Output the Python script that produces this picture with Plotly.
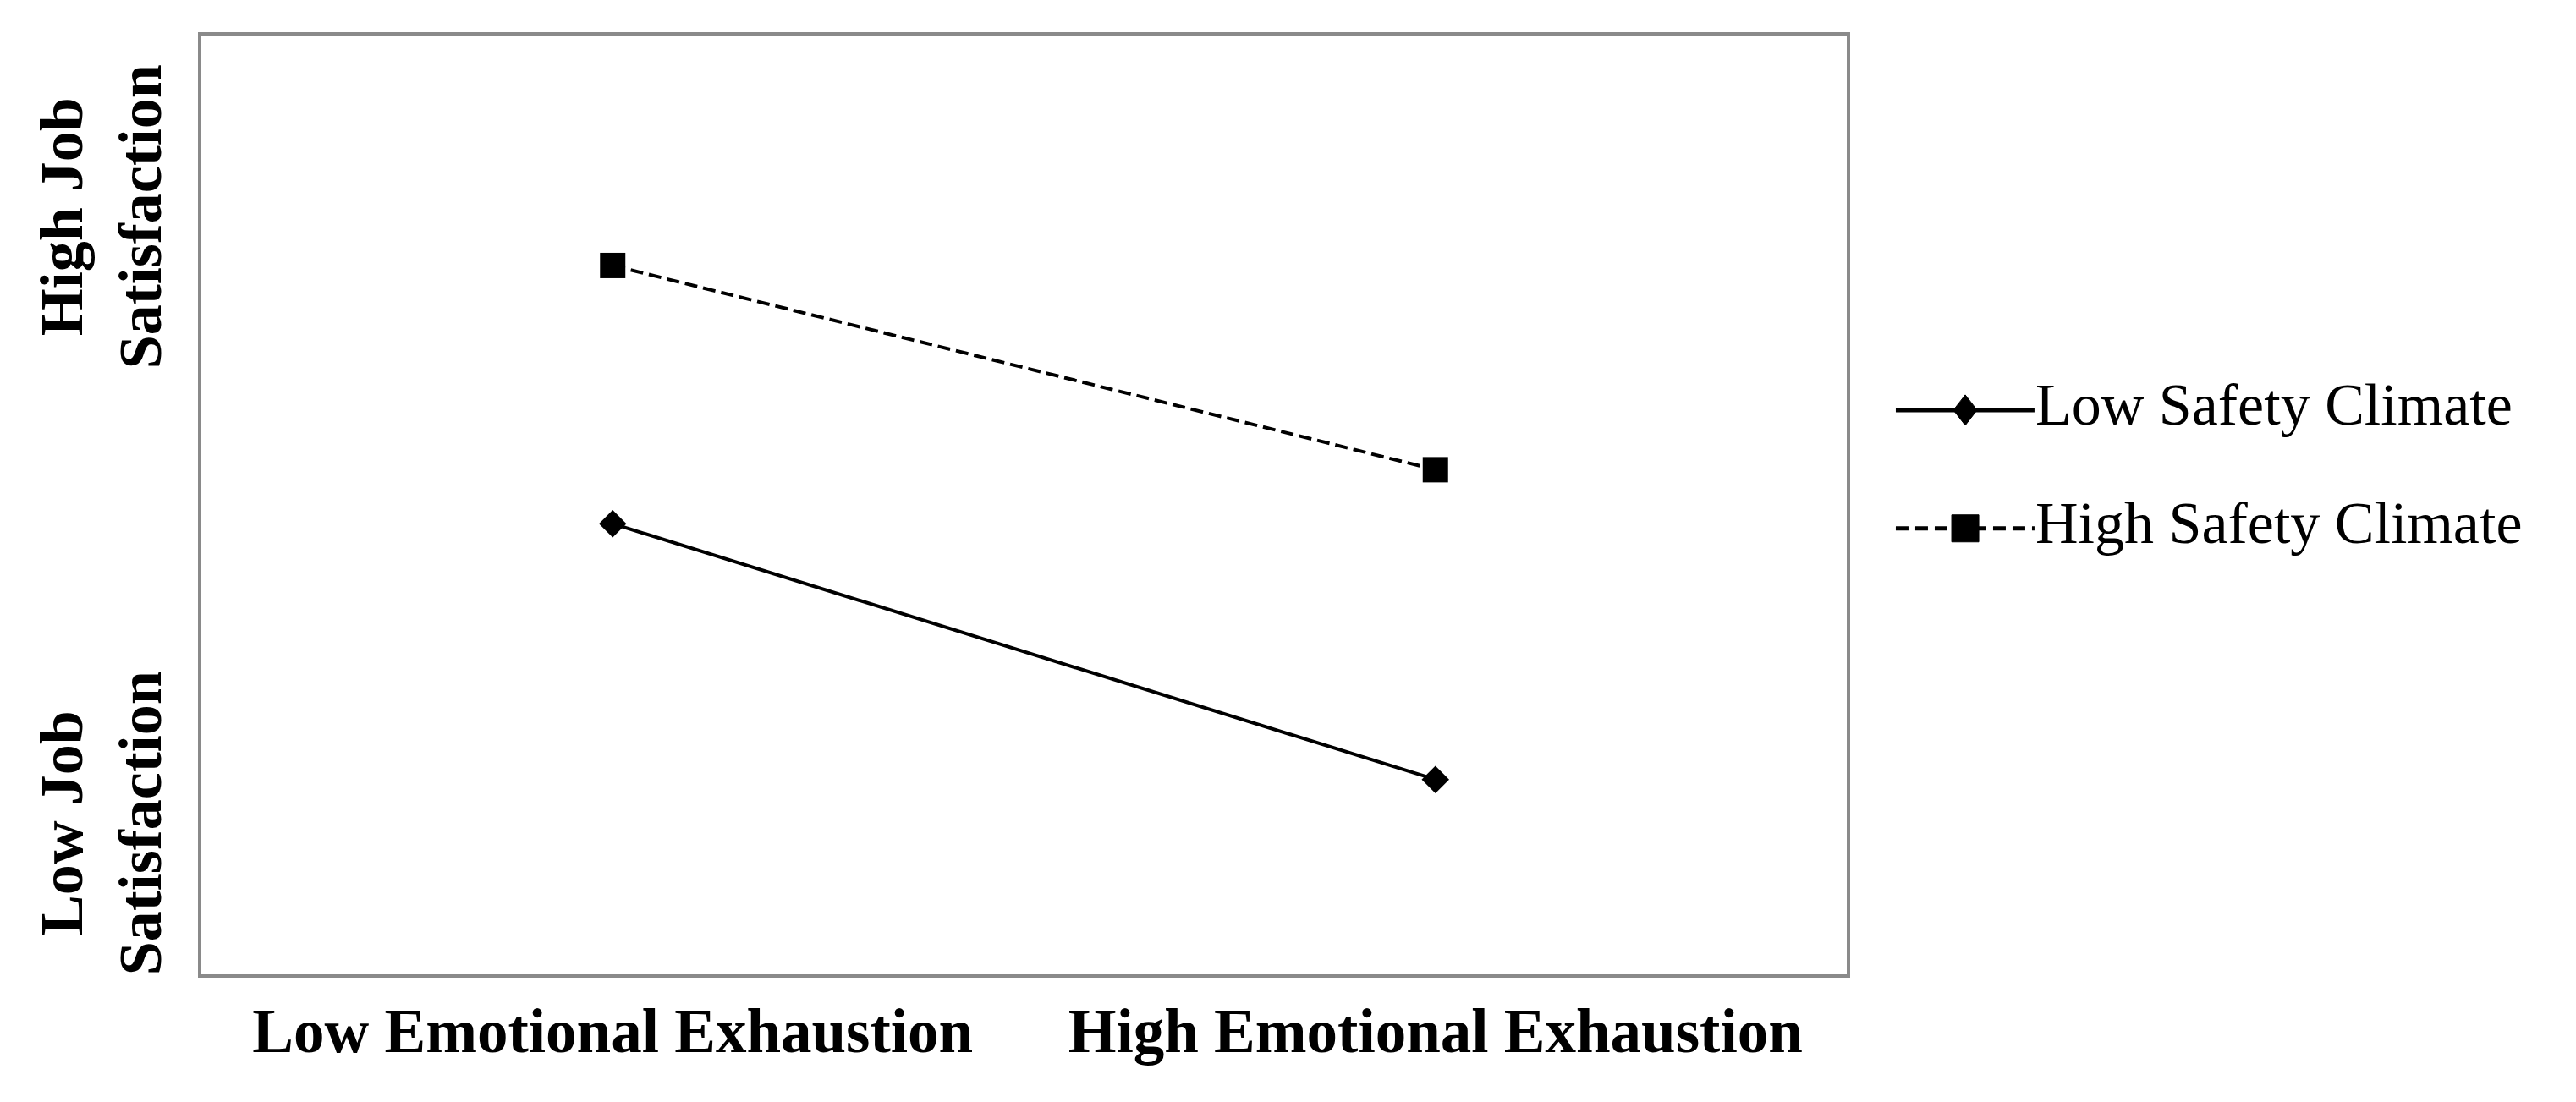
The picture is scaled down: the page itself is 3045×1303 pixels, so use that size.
import plotly.graph_objects as go

# Dados (escala arbitrária 1-5 no eixo y oculto)
categorias = ["Low Emotional Exhaustion", "High Emotional Exhaustion"]
series_nomes = ["Low Safety Climate", "High Safety Climate"]
low_safety = [2.92, 1.83]
high_safety = [4.02, 3.15]
y_rotulos = ["High Job<br>Satisfaction", "Low Job<br>Satisfaction"]

FONTE = "Liberation Serif, Times New Roman, serif"

fig = go.Figure()

# Linha sólida com losangos
fig.add_trace(
    go.Scatter(
        x=categorias,
        y=low_safety,
        name=series_nomes[0],
        mode="lines+markers",
        line=dict(color="black", width=4),
        marker=dict(symbol="diamond", size=25, color="black"),
    )
)

# Linha tracejada com quadrados
fig.add_trace(
    go.Scatter(
        x=categorias,
        y=high_safety,
        name=series_nomes[1],
        mode="lines+markers",
        line=dict(color="black", width=4, dash="15px,7px"),
        marker=dict(symbol="square", size=30, color="black"),
    )
)

fig.update_layout(
    width=3045,
    height=1303,
    margin=dict(l=230, r=870, t=34, b=159),
    plot_bgcolor="white",
    paper_bgcolor="white",
    font=dict(family=FONTE, color="black"),
    showlegend=False,
)

fig.update_xaxes(
    type="category",
    range=[-0.5, 1.5],
    showgrid=False,
    showline=True,
    linecolor="#8a8a8a",
    linewidth=4,
    mirror=True,
    ticks="",
    ticklabelstandoff=0,
    tickfont=dict(size=73, family=FONTE),
    tickprefix="<b>",
    ticksuffix="</b>",
)

fig.update_yaxes(
    range=[1, 5],
    showgrid=False,
    showline=True,
    linecolor="#8a8a8a",
    linewidth=4,
    mirror=True,
    showticklabels=False,
    ticks="",
    zeroline=False,
)

# Rótulos do eixo y (texto girado)
for texto, ypos in zip(y_rotulos, [0.807, 0.161]):
    fig.add_annotation(
        text=f"<b>{texto}</b>",
        xref="paper",
        yref="paper",
        x=-0.0607,
        y=ypos,
        xanchor="center",
        yanchor="middle",
        textangle=-90,
        showarrow=False,
        font=dict(size=72, family=FONTE),
    )

# Legenda desenhada à mão (marcadores maiores que os da legenda nativa)
leg_y = [0.601, 0.475]
leg_dash = ["solid", "15px,8px"]
for i, nome in enumerate(series_nomes):
    fig.add_shape(
        type="line",
        xref="paper",
        yref="paper",
        x0=1.0298,
        x1=1.1141,
        y0=leg_y[i],
        y1=leg_y[i],
        line=dict(color="black", width=5, dash=leg_dash[i]),
    )
    fig.add_annotation(
        text=nome,
        xref="paper",
        yref="paper",
        x=1.1136,
        y=leg_y[i] + 0.006,
        xanchor="left",
        yanchor="middle",
        showarrow=False,
        font=dict(size=70, family=FONTE),
    )

# losango da legenda
fig.add_shape(
    type="path",
    xref="paper",
    yref="paper",
    xsizemode="pixel",
    ysizemode="pixel",
    xanchor=1.072,
    yanchor=leg_y[0],
    path="M0,18 L14,0 L0,-18 L-14,0 Z",
    fillcolor="black",
    line=dict(color="black", width=1),
)
# quadrado da legenda
fig.add_shape(
    type="rect",
    xref="paper",
    yref="paper",
    xsizemode="pixel",
    ysizemode="pixel",
    xanchor=1.072,
    yanchor=leg_y[1],
    x0=-16,
    x1=16,
    y0=-16,
    y1=16,
    fillcolor="black",
    line=dict(color="black", width=1),
)

fig.write_html("out.html")
